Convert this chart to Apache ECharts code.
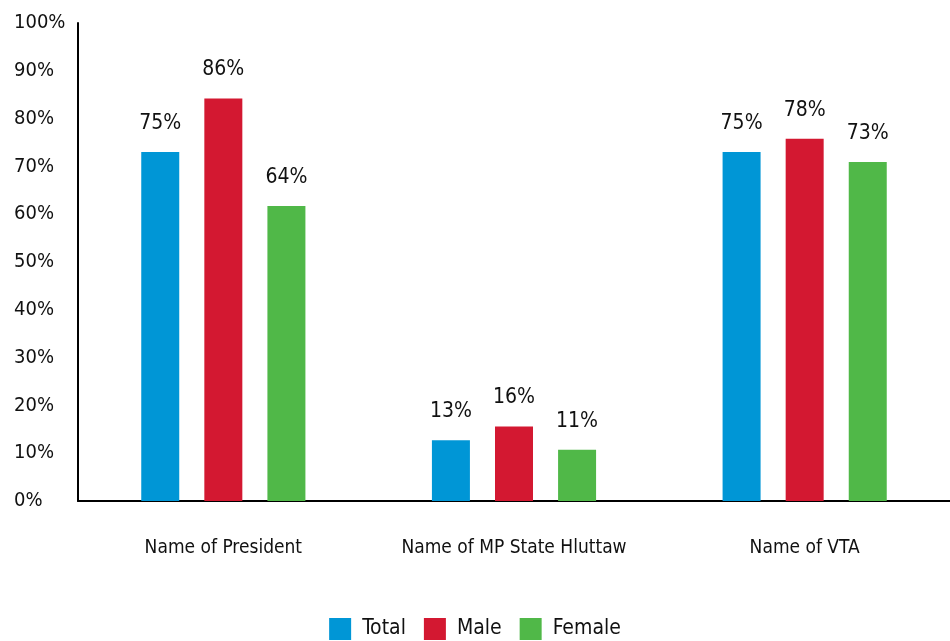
<!DOCTYPE html>
<html>
<head>
<meta charset="utf-8">
<script src="https://cdn.jsdelivr.net/npm/echarts@6/dist/echarts.min.js"></script>
<style>
  html, body { margin: 0; padding: 0; background: #fff; }
  #chart { width: 950px; height: 641px; }
</style>
</head>
<body>
<div id="chart"></div>
<script>
// 数据
const categories = ['Name of President', 'Name of MP State Hluttaw', 'Name of VTA'];
const seriesNames = ['Total', 'Male', 'Female'];
const seriesColors = ['#0096d6', '#d31831', '#50b848'];
// bar heights as drawn in the picture
const totalValues = [73, 12.7, 73];
const maleValues = [84.2, 15.6, 75.8];
const femaleValues = [61.7, 10.7, 70.9];
// printed labels
const totalLabels = ['75%', '13%', '75%'];
const maleLabels = ['86%', '16%', '78%'];
const femaleLabels = ['64%', '11%', '73%'];
const yTicks = [0, 10, 20, 30, 40, 50, 60, 70, 80, 90, 100];

const FONT = '"DejaVu Sans Condensed", "DejaVu Sans", sans-serif';
const TEXT = '#111';

const chart = echarts.init(document.getElementById('chart'));

const makeSeries = (name, values, labels, color) => ({
    name: name,
    type: 'bar',
    data: values,
    barWidth: 38,
    barGap: '66%',
    itemStyle: { color: color },
    label: {
        show: true,
        position: 'top',
        distance: 18,
        color: TEXT,
        fontFamily: FONT,
        fontSize: 21,
        formatter: (p) => labels[p.dataIndex]
    }
});

chart.setOption({
    animation: false,
    legend: {
        bottom: -4,
        left: 'center',
        itemWidth: 22,
        itemHeight: 22,
        itemGap: 18,
        icon: 'rect',
        textStyle: { color: TEXT, fontFamily: FONT, fontSize: 21, padding: [0, 0, 0, 6] },
        data: seriesNames
    },
    grid: {
        left: 78,
        top: 23,
        width: 882,
        bottom: 140
    },
    xAxis: {
        type: 'category',
        data: categories,
        axisLine: { lineStyle: { color: '#000', width: 2 } },
        axisTick: { show: false },
        axisLabel: {
            interval: 0,
            margin: 38,
            color: TEXT,
            fontFamily: FONT,
            fontSize: 19
        }
    },
    yAxis: {
        type: 'value',
        min: yTicks[0],
        max: yTicks[yTicks.length - 1],
        interval: 10,
        splitLine: { show: false },
        axisTick: { show: false },
        axisLine: { show: true, lineStyle: { color: '#000', width: 2 } },
        axisLabel: {
            align: 'left',
            margin: 64,
            color: TEXT,
            fontFamily: FONT,
            fontSize: 20,
            formatter: '{value}%'
        }
    },
    series: [
        makeSeries(seriesNames[0], totalValues, totalLabels, seriesColors[0]),
        makeSeries(seriesNames[1], maleValues, maleLabels, seriesColors[1]),
        makeSeries(seriesNames[2], femaleValues, femaleLabels, seriesColors[2])
    ]
});

window.addEventListener('resize', () => chart.resize());
</script>
</body>
</html>
